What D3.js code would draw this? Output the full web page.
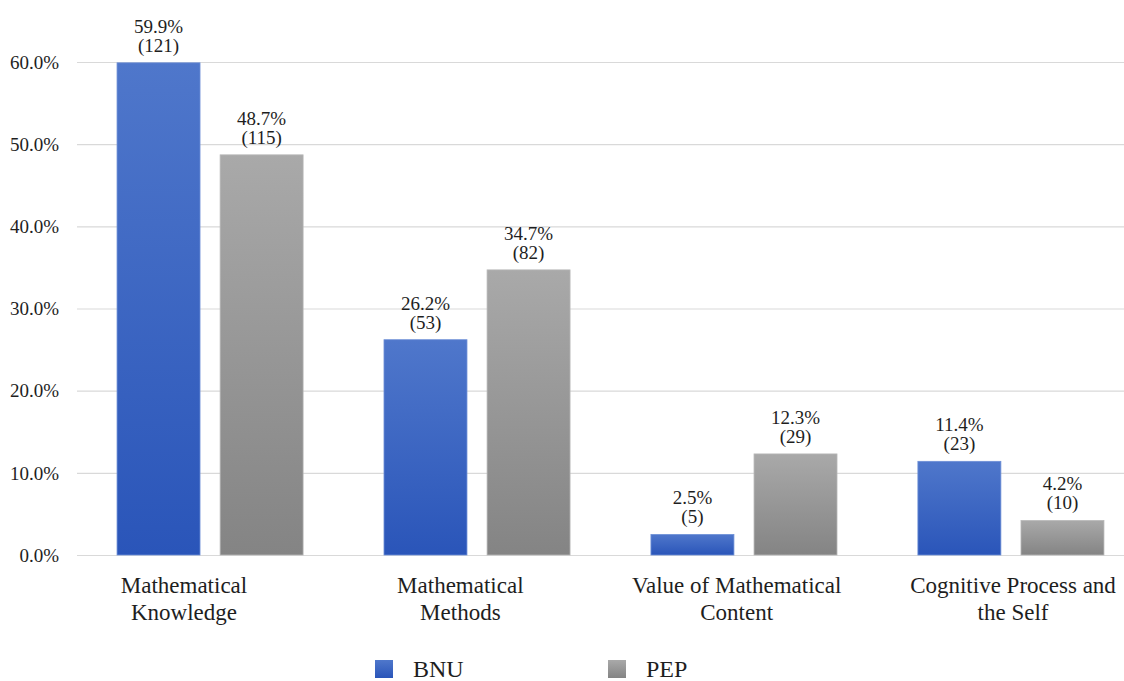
<!DOCTYPE html>
<html>
<head>
<meta charset="utf-8">
<script src="https://cdn.jsdelivr.net/npm/d3@7"></script>
<style>
  html, body { margin: 0; padding: 0; background: #fff; }
  svg { display: block; }
  text, tspan { font-family: "Liberation Serif", "Times New Roman", serif !important; }
</style>
</head>
<body>
<svg id="chart" width="1124" height="681" font-family="Liberation Serif"></svg>
<script>
// Categories (two-line labels) and series
const categories = ["Mathematical Knowledge", "Mathematical Methods", "Value of Mathematical Content", "Cognitive Process and the Self"];
const categoryLines = [["Mathematical", "Knowledge"], ["Mathematical", "Methods"], ["Value of Mathematical", "Content"], ["Cognitive Process and", "the Self"]];
const seriesNames = ["BNU", "PEP"];
const bnuPercent = [59.9, 26.2, 2.5, 11.4];
const bnuCount = [121, 53, 5, 23];
const pepPercent = [48.7, 34.7, 12.3, 4.2];
const pepCount = [115, 82, 29, 10];
const yTicks = [0, 10, 20, 30, 40, 50, 60];

const FONT = "Liberation Serif";
const TEXT = "#1e1e1e";
const svg = d3.select("#chart");

const y = d3.scaleLinear().domain([0, 60]).range([555, 62]);
const x0 = d3.scaleBand().domain(categories).range([77, 1144]).paddingInner(0.303).paddingOuter(0.15);
const x1 = d3.scaleBand().domain(seriesNames).range([0, x0.bandwidth()]).paddingInner(0.195);
const xLabel = d3.scalePoint().domain(categories).range([184, 1013]);

// vertical gradients for the bar fills
const defs = svg.append("defs");
const grads = { BNU: ["#4f77cb", "#2a55b9"], PEP: ["#a9a9a9", "#848484"] };
Object.entries(grads).forEach(([k, c]) => {
  const g = defs.append("linearGradient").attr("id", "g" + k).attr("x1", 0).attr("x2", 0).attr("y1", 0).attr("y2", 1);
  g.append("stop").attr("offset", "0%").attr("stop-color", c[0]);
  g.append("stop").attr("offset", "100%").attr("stop-color", c[1]);
});

// gridlines and y tick labels
const yAxis = d3.axisLeft(y).tickValues(yTicks).tickSize(-(1124 - 77)).tickFormat(d => d.toFixed(1) + "%");
const ga = svg.append("g").attr("transform", "translate(77,0)").call(yAxis)
  .attr("font-family", FONT).attr("font-size", 19);
ga.select(".domain").remove();
ga.selectAll(".tick line").attr("stroke", "#d9d9d9").attr("stroke-width", 1.2);
ga.selectAll(".tick text").attr("x", -18).attr("dy", "0.33em").attr("fill", TEXT);

// bars
const rows = categories.map((c, i) => ({
  cat: c,
  vals: [
    { s: "BNU", p: bnuPercent[i], n: bnuCount[i] },
    { s: "PEP", p: pepPercent[i], n: pepCount[i] }
  ]
}));

const groups = svg.append("g").selectAll("g").data(rows).join("g")
  .attr("transform", d => `translate(${x0(d.cat)},0)`);

groups.selectAll("rect").data(d => d.vals).join("rect")
  .attr("x", d => x1(d.s))
  .attr("y", d => y(d.p))
  .attr("width", x1.bandwidth())
  .attr("height", d => y(0) - y(d.p))
  .attr("fill", d => `url(#g${d.s})`)
  .attr("stroke", d => d.s === "BNU" ? "#6d8fd6" : "#b8b8b8")
  .attr("stroke-width", 0.8);

// value labels: percentage over count, one text per line
const cx = d => x1(d.s) + x1.bandwidth() / 2;
groups.selectAll("text.pct").data(d => d.vals).join("text")
  .attr("class", "pct")
  .attr("text-anchor", "middle").attr("fill", TEXT)
  .attr("font-family", FONT).attr("font-size", 19)
  .attr("x", cx).attr("y", d => y(d.p) - 30)
  .text(d => d.p.toFixed(1) + "%");
groups.selectAll("text.cnt").data(d => d.vals).join("text")
  .attr("class", "cnt")
  .attr("text-anchor", "middle").attr("fill", TEXT)
  .attr("font-family", FONT).attr("font-size", 19)
  .attr("x", cx).attr("y", d => y(d.p) - 11)
  .text(d => `(${d.n})`);

// category labels, one text per line
const catLines = categories.flatMap((c, i) => categoryLines[i].map((line, j) => ({ c, line, j })));
svg.append("g").selectAll("text").data(catLines).join("text")
  .attr("text-anchor", "middle").attr("fill", TEXT)
  .attr("font-family", FONT).attr("font-size", 23)
  .attr("x", d => xLabel(d.c)).attr("y", d => 593 + d.j * 27)
  .text(d => d.line);

// legend
const legend = svg.append("g").selectAll("g").data(seriesNames).join("g")
  .attr("transform", (d, i) => `translate(${375 + i * 233},660)`);
legend.append("rect").attr("width", 18).attr("height", 18)
  .attr("fill", d => `url(#g${d})`);
legend.append("text").attr("x", 38).attr("y", 17)
  .attr("fill", TEXT).attr("font-family", FONT).attr("font-size", 24).text(d => d);
</script>
</body>
</html>
